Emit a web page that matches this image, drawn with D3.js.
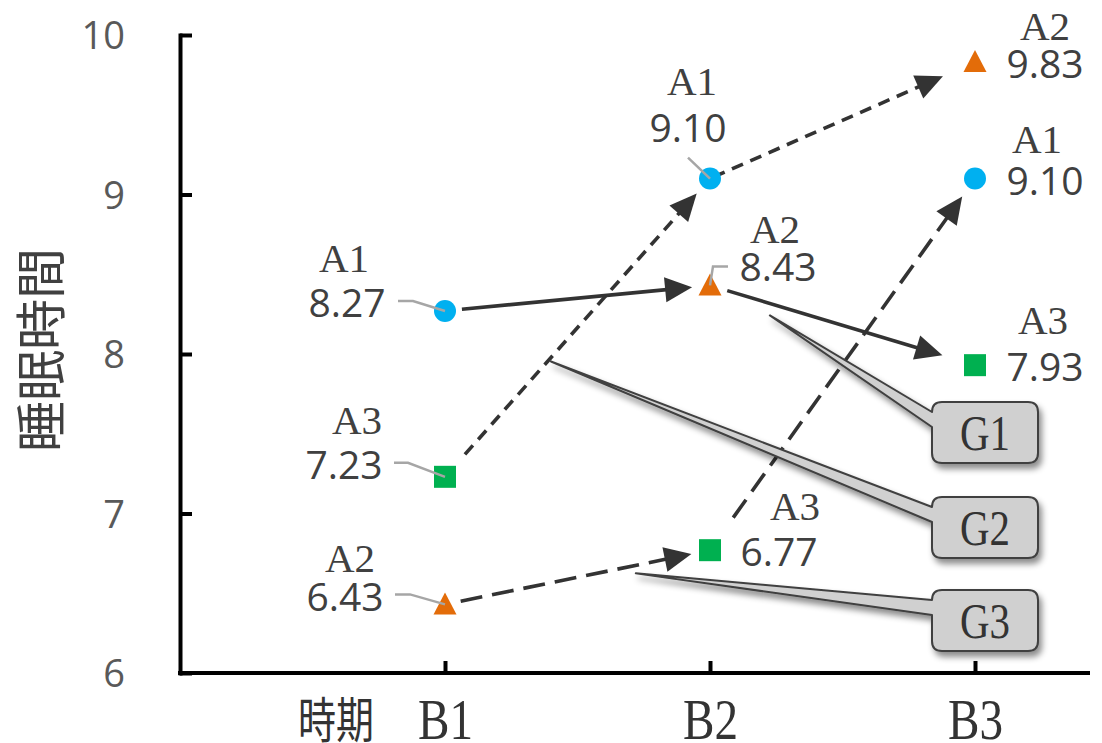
<!DOCTYPE html>
<html><head><meta charset="utf-8">
<script src="https://cdn.jsdelivr.net/npm/d3@7"></script>
<style>body{margin:0;background:#fff} svg{display:block}</style>
</head><body>
<svg id="c" width="1102" height="743"></svg>
<script>
// ---------------- data ----------------
const periods = ["B1", "B2", "B3"];
const seriesNames = ["A1", "A2", "A3"];
const valuesA1 = [8.27, 9.10, 9.10];
const valuesA2 = [6.43, 8.43, 9.83];
const valuesA3 = [7.23, 6.77, 7.93];
const yTicks = [6, 7, 8, 9, 10];
const groupNames = ["G1", "G2", "G3"];
const groupG1 = ["A1", "A2", "A3"];   // series followed through B1 -> B2 -> B3
const groupG2 = ["A3", "A1", "A2"];
const groupG3 = ["A2", "A3", "A1"];
const xAxisPrefix = "時期";
const yAxisTitle = "睡眠時間";

// ---------------- layout / style ----------------
const svg = d3.select("#c");
const x = d3.scalePoint().domain(periods).range([445, 975]);
const y = d3.scaleLinear().domain([6, 10]).range([673, 35]);
const valuesBy = { A1: valuesA1, A2: valuesA2, A3: valuesA3 };
const groupsBy = { G1: groupG1, G2: groupG2, G3: groupG3 };
const pt = (s, i) => [x(periods[i]), y(valuesBy[s][i])];

const colors = { A1: "#00b0f0", A2: "#e36c09", A3: "#00b050" };
const textCol = "#404040";
// label layout per series, per period: [valueDx, valueDy, nameDx, nameDy]
const labelLayout = {
  A1: [[-98, 6, -101, -39], [-22, -37, -18, -84], [70, 16, 62, -26]],
  A2: [[-100, 7, -95, -32], [68, -4, 65, -42], [70, 16, 70, -22]],
  A3: [[-101, 2, -88, -43], [69, 16, 85, -30], [70, 16, 68, -31]]
};
// leader lines (relative to point)
const leaderLayout = {
  A1: [[[-47, -10], [-32, -10]], [[-22, -21]], null],
  A2: [[[-50, -10], [-35, -10]], [[18, -19], [3, -19]], null],
  A3: [[[-51, -14], [-37, -14]], null, null]
};
const groupStyle = {
  G1: { dash: null, gaps: [[17, 18], [18, 34]] },
  G2: { dash: "12,8", gaps: [[30, 20], [4, 35]] },
  G3: { dash: "22,10", gaps: [[16, 19], [40, 22]] }
};
const calloutLayout = {
  G1: { left: 932, top: 402, seg: 1, t: 0.226, off: [0, 12] },
  G2: { left: 932, top: 497, seg: 0, t: 0.40, off: [0, 4] },
  G3: { left: 932, top: 590, seg: 0, t: 0.72, off: [0, 8] }
};

// ---------------- defs ----------------
const defs = svg.append("defs");
const f = defs.append("filter").attr("id", "sh")
  .attr("x", "-20%").attr("y", "-30%").attr("width", "150%").attr("height", "170%");
f.append("feDropShadow").attr("dx", 3).attr("dy", 5).attr("stdDeviation", 3)
  .attr("flood-color", "#000").attr("flood-opacity", 0.45);

// ---------------- axes ----------------
const yAxis = d3.axisLeft(y).tickValues(yTicks).tickSize(-12).tickSizeOuter(0).tickPadding(55)
  .tickFormat(d3.format("d"));
const gy = svg.append("g").attr("transform", "translate(180,0)").call(yAxis);
gy.select(".domain").attr("stroke", "#000").attr("stroke-width", 4).attr("stroke-linecap", "square");
gy.selectAll(".tick line").attr("stroke", "#000").attr("stroke-width", 4);
gy.selectAll(".tick text").attr("fill", "#595959").attr("font-family", "'Open Sans', sans-serif")
  .attr("font-size", 38).attr("dy", "0.36em");

svg.append("line").attr("x1", 178).attr("x2", 1090).attr("y1", y(6)).attr("y2", y(6))
  .attr("stroke", "#000").attr("stroke-width", 4);
const xAxis = d3.axisBottom(x).tickSize(-12).tickPadding(26);
const gx = svg.append("g").attr("transform", `translate(0,${y(6)})`).call(xAxis);
gx.select(".domain").remove();
gx.selectAll(".tick line").attr("stroke", "#000").attr("stroke-width", 4);
gx.selectAll(".tick text").attr("fill", "#333").attr("font-family", "'Liberation Serif', serif")
  .attr("font-size", 56).attr("textLength", 55).attr("lengthAdjust", "spacingAndGlyphs");

svg.append("text").attr("x", 374).attr("y", 738).attr("text-anchor", "end")
  .attr("font-family", "'Noto Sans CJK JP', sans-serif").attr("font-size", 49)
  .attr("textLength", 76).attr("lengthAdjust", "spacingAndGlyphs")
  .attr("fill", "#333").text(xAxisPrefix);

svg.append("text").attr("transform", "translate(60,350) rotate(-90)").attr("text-anchor", "middle")
  .attr("font-family", "'Noto Sans CJK JP', sans-serif").attr("font-size", 51)
  .attr("fill", textCol).text(yAxisTitle);

// ---------------- arrows ----------------
const gArrows = svg.append("g");
const segInfo = {};
groupNames.forEach(g => {
  const seq = groupsBy[g], st = groupStyle[g];
  segInfo[g] = [];
  for (let i = 0; i < seq.length - 1; i++) {
    const p0 = pt(seq[i], i), p1 = pt(seq[i + 1], i + 1);
    segInfo[g].push([p0, p1]);
    const dx = p1[0] - p0[0], dy = p1[1] - p0[1], L = Math.hypot(dx, dy);
    const ux = dx / L, uy = dy / L;
    const [g0, g1] = st.gaps[i];
    const sx = p0[0] + ux * g0, sy = p0[1] + uy * g0;
    const tx = p1[0] - ux * g1, ty = p1[1] - uy * g1;
    const headL = 27, headW = 12.5;
    gArrows.append("line")
      .attr("x1", sx).attr("y1", sy)
      .attr("x2", tx - ux * (headL - 4)).attr("y2", ty - uy * (headL - 4))
      .attr("stroke", "#333").attr("stroke-width", 3.6)
      .attr("stroke-dasharray", st.dash);
    const bx = tx - ux * headL, by = ty - uy * headL;
    gArrows.append("path")
      .attr("d", `M${tx},${ty}L${bx - uy * headW},${by + ux * headW}L${bx + uy * headW},${by - ux * headW}Z`)
      .attr("fill", "#333");
  }
});

// ---------------- markers ----------------
const gMarks = svg.append("g");
seriesNames.forEach(s => {
  periods.forEach((p, i) => {
    const [px, py] = pt(s, i);
    if (s === "A1") {
      gMarks.append("circle").attr("cx", px).attr("cy", py).attr("r", 11).attr("fill", colors[s]);
    } else if (s === "A2") {
      gMarks.append("path").attr("transform", `translate(${px},${py})`)
        .attr("d", "M0,-12L11.5,10L-11.5,10Z").attr("fill", colors[s]);
    } else {
      gMarks.append("rect").attr("x", px - 11).attr("y", py - 11).attr("width", 22).attr("height", 22)
        .attr("fill", colors[s]);
    }
  });
});

// ---------------- leader lines & labels ----------------
const gLab = svg.append("g");
seriesNames.forEach(s => {
  periods.forEach((p, i) => {
    const [px, py] = pt(s, i);
    const ld = leaderLayout[s][i];
    if (ld) {
      const pts = ld.map(d => [px + d[0], py + d[1]]).concat([[px, py]]);
      gLab.append("path").attr("d", d3.line()(pts)).attr("fill", "none")
        .attr("stroke", "#a6a6a6").attr("stroke-width", 2.5);
    }
    const [vdx, vdy, ndx, ndy] = labelLayout[s][i];
    gLab.append("text").attr("x", px + vdx).attr("y", py + vdy).attr("text-anchor", "middle")
      .attr("font-family", "'Open Sans', sans-serif").attr("font-size", 39).attr("fill", textCol)
      .text(valuesBy[s][i].toFixed(2));
    gLab.append("text").attr("x", px + ndx).attr("y", py + ndy).attr("text-anchor", "middle")
      .attr("font-family", "'Liberation Serif', serif").attr("font-size", 41).attr("fill", textCol)
      .text(s);
  });
});

// ---------------- callouts ----------------
const gCall = svg.append("g");
groupNames.forEach(g => {
  const c = calloutLayout[g];
  const [p0, p1] = segInfo[g][c.seg];
  const tipx = p0[0] + (p1[0] - p0[0]) * c.t + c.off[0];
  const tipy = p0[1] + (p1[1] - p0[1]) * c.t + c.off[1];
  const x0 = c.left, y0 = c.top, x1 = x0 + 106, y1 = y0 + 61, r = 10;
  const wa = y0 + 10, wb = y0 + 25;
  const d = `M${x0 + r},${y0}H${x1 - r}Q${x1},${y0} ${x1},${y0 + r}V${y1 - r}Q${x1},${y1} ${x1 - r},${y1}` +
    `H${x0 + r}Q${x0},${y1} ${x0},${y1 - r}V${wb}L${tipx},${tipy}L${x0},${wa}V${y0 + r}Q${x0},${y0} ${x0 + r},${y0}Z`;
  gCall.append("path").attr("d", d).attr("fill", "#d0d0d0").attr("stroke", "#404040")
    .attr("stroke-width", 2).attr("stroke-linejoin", "round").attr("filter", "url(#sh)");
  gCall.append("text").attr("x", (x0 + x1) / 2).attr("y", y0 + 48).attr("text-anchor", "middle")
    .attr("font-family", "'Liberation Serif', serif").attr("font-size", 50)
    .attr("textLength", 50).attr("lengthAdjust", "spacingAndGlyphs")
    .attr("fill", "#333").text(g);
});
</script>
</body></html>
